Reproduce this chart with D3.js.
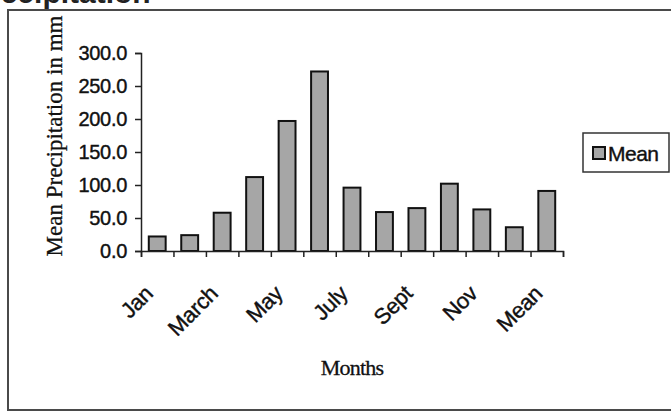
<!DOCTYPE html>
<html>
<head>
<meta charset="utf-8">
<script src="https://cdn.jsdelivr.net/npm/d3@7/dist/d3.min.js"></script>
<style>
  body { margin: 0; background: #fff; }
  svg { display: block; }
</style>
</head>
<body>
<svg id="svg1" width="671" height="412"></svg>
<script>
// data
var months = ["Jan", "Feb", "March", "April", "May", "June", "July", "Aug", "Sept", "Oct", "Nov", "Dec", "Mean"];
var meanPrecip = [22, 24, 58, 112, 197, 272, 96, 59, 65, 102, 63, 36, 91];
var yTicks = [0, 50, 100, 150, 200, 250, 300];
var seriesName = "Mean";

var svg = d3.select('#svg1');

var plotLeft = 141, plotRight = 563, plotTop = 53, plotBottom = 251;
var sans = 'Liberation Sans, Arial, sans-serif';
var serif = 'Liberation Serif, Times New Roman, serif';

// outer frame (scan is cropped at the right)
svg.append('path')
    .attr('d', 'M671,10 L8,10 L8,410 L671,410')
    .attr('fill', 'none')
    .attr('stroke', '#4a4a4a')
    .attr('stroke-width', 2);

// cropped caption at the very top
svg.append('text')
    .attr('x', -31)
    .attr('y', 3)
    .attr('font-family', sans)
    .attr('font-weight', 'bold')
    .attr('font-size', 30)
    .attr('fill', '#222')
    .text('Precipitation');

var x = d3.scaleBand()
    .domain(months)
    .range([plotLeft, plotRight])
    .paddingInner(0.48)
    .paddingOuter(0.24);

// boundary ticks between categories
var xEdge = d3.scaleLinear().domain([0, months.length]).range([plotLeft, plotRight]);

var y = d3.scaleLinear()
    .domain([0, 300])
    .range([plotBottom, plotTop]);

// bars
svg.selectAll('rect.bar')
    .data(meanPrecip)
    .enter()
    .append('rect')
    .attr('class', 'bar')
    .attr('x', function(d, i) { return x(months[i]); })
    .attr('y', function(d) { return y(d); })
    .attr('width', x.bandwidth())
    .attr('height', function(d) { return y(0) - y(d); })
    .attr('fill', '#a6a6a6')
    .attr('stroke', '#111')
    .attr('stroke-width', 2);

// y axis
var yAxis = svg.append('g')
    .attr('transform', 'translate(' + plotLeft + ',0)')
    .call(d3.axisLeft(y).tickValues(yTicks).tickFormat(d3.format('.1f')).tickSize(6).tickPadding(8));
yAxis.selectAll('text')
    .attr('font-family', sans)
    .attr('font-size', 20)
    .attr('letter-spacing', -0.3)
    .attr('fill', '#111')
    .attr('stroke', '#111')
    .attr('stroke-width', 0.4);

// x axis ticks
var xTicks = svg.append('g')
    .attr('transform', 'translate(0,' + plotBottom + ')')
    .call(d3.axisBottom(xEdge).ticks(months.length).tickFormat('').tickSize(6));

// x axis labels, every other category
var xLabels = svg.append('g')
    .attr('transform', 'translate(0,' + plotBottom + ')')
    .call(d3.axisBottom(x).tickSize(0).tickFormat(function(d, i) { return i % 2 ? '' : d; }));
xLabels.select('.domain').remove();
xLabels.selectAll('text')
    .attr('x', 0)
    .attr('y', 0)
    .attr('dy', 0)
    .attr('text-anchor', 'end')
    .attr('transform', 'translate(-3,44) rotate(-45)')
    .attr('font-family', sans)
    .attr('font-size', 22)
    .attr('letter-spacing', -0.3)
    .attr('fill', '#111')
    .attr('stroke', '#111')
    .attr('stroke-width', 0.4);

svg.selectAll('.domain, .tick line')
    .attr('stroke', '#222')
    .attr('stroke-width', 1.5);

// axis titles
svg.append('text')
    .attr('transform', 'translate(62,136) rotate(-90)')
    .attr('text-anchor', 'middle')
    .attr('font-family', serif)
    .attr('font-size', 23)
    .attr('fill', '#111')
    .attr('stroke', '#111')
    .attr('stroke-width', 0.3)
    .text('Mean Precipitation in mm');

svg.append('text')
    .attr('x', 352)
    .attr('y', 375)
    .attr('text-anchor', 'middle')
    .attr('font-family', serif)
    .attr('font-size', 22)
    .attr('letter-spacing', -0.8)
    .attr('fill', '#111')
    .attr('stroke', '#111')
    .attr('stroke-width', 0.3)
    .text('Months');

// legend
var legend = svg.append('g');
legend.append('rect')
    .attr('x', 583).attr('y', 133)
    .attr('width', 86).attr('height', 39)
    .attr('fill', '#fff')
    .attr('stroke', '#333')
    .attr('stroke-width', 1.5);
legend.append('rect')
    .attr('x', 593).attr('y', 147)
    .attr('width', 12).attr('height', 12)
    .attr('fill', '#a6a6a6')
    .attr('stroke', '#111')
    .attr('stroke-width', 2);
legend.append('text')
    .attr('x', 608).attr('y', 161)
    .attr('font-family', sans)
    .attr('font-size', 21)
    .attr('letter-spacing', -0.5)
    .attr('fill', '#111')
    .attr('stroke', '#111')
    .attr('stroke-width', 0.4)
    .text(seriesName);
</script>
</body>
</html>
